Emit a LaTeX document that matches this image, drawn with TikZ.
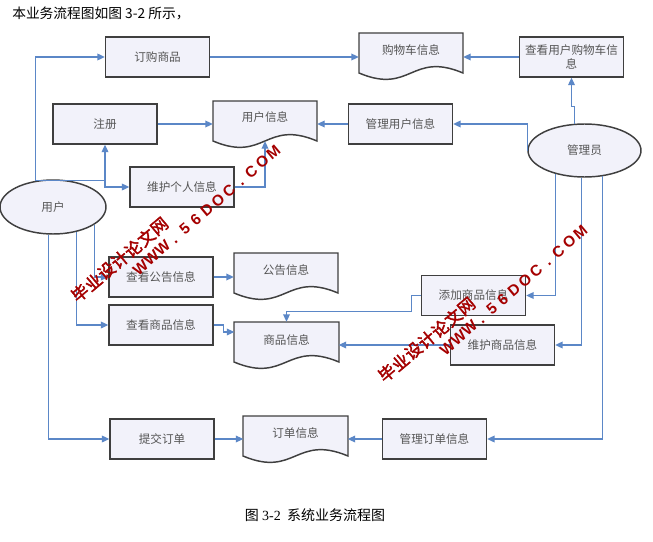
\documentclass[tikz,border=0pt]{standalone}
\usepackage{fontspec}
\newfontfamily\cjk{Noto Sans CJK SC}
\newfontfamily\cjkb[AutoFakeBold=2.5]{Noto Sans CJK SC}
\newfontfamily\wmfont{Liberation Sans}
\newfontfamily\numfont{Liberation Serif}
\usetikzlibrary{shapes.geometric,arrows.meta,calc}
\definecolor{boxfill}{HTML}{F2F2FA}
\definecolor{boxline}{HTML}{3F3F3F}
\definecolor{linkblue}{HTML}{5B87C7}
\definecolor{wmred}{HTML}{A50000}
\definecolor{txtgray}{HTML}{555555}
\newcommand\docpath[4]{\filldraw[docsty] (#1,#3) -- (#2,#3) -- (#2,#4) .. controls ({(#1+#2)/2},{#4-22}) and ({(#1+#2)/2},{#4+22}) .. (#1,#4) -- cycle;}
\begin{document}
\begin{tikzpicture}[x=0.75pt,y=-0.75pt,
  proc/.style={draw=boxline, fill=boxfill, line width=1.1pt, minimum width=78pt, minimum height=30pt, inner sep=0pt,
    font=\cjk\fontsize{8.7}{11}\selectfont, text=txtgray, align=center},
  docgeom/.style={minimum width=78pt, minimum height=30pt, inner sep=0pt},
  docsty/.style={draw=boxline, fill=boxfill, line width=1.1pt},
  dtxt/.style={font=\cjk\fontsize{8.7}{11}\selectfont, text=txtgray, inner sep=0pt},
  ell/.style={ellipse, draw=boxline, fill=boxfill, line width=1.1pt, inner sep=0pt,
    font=\cjk\fontsize{8.7}{11}\selectfont, text=txtgray},
  arr/.style={draw=linkblue, line width=0.9pt, -{Triangle[length=5.5pt,width=5pt]}},
  plain/.style={draw=linkblue, line width=0.9pt},
  wmc/.style={text=wmred, rotate=40, inner sep=0pt, font=\cjkb\bfseries\fontsize{12.5}{13}\selectfont},
  wmu/.style={text=wmred, rotate=40, inner sep=0pt, anchor=base, font=\wmfont\bfseries\fontsize{11.5}{12}\selectfont}
]
\fill[white] (0,0) rectangle (653,542);
\useasboundingbox (0,0) rectangle (653,542);

% intro and caption
\node[anchor=west, inner sep=0pt, font=\cjk\fontsize{10.3}{12}\selectfont] (intro) at (12,13) {本业务流程图如图 3-2 所示，};
\node[inner sep=0pt, font=\cjk\fontsize{10.5}{12}\selectfont] (cap) at (315,515) {图 {\numfont 3-2}\ \ 系统业务流程图};

% documents
\docpath{213}{317}{101}{141}
\docpath{359}{463}{33}{73}
\docpath{234}{338}{253}{293}
\docpath{234}{339}{322}{362}
\docpath{243}{348}{416}{456}
\node[docgeom] (yh) at (265,121) {};
\node[dtxt] (yh-t) at (265,117) {用户信息};
\node[docgeom] (gw) at (411,53) {};
\node[dtxt] (gw-t) at (411,50) {购物车信息};
\node[docgeom] (gx) at (286,273) {};
\node[dtxt] (gx-t) at (286,270) {公告信息};
\node[docgeom] (si) at (286.5,342) {};
\node[dtxt] (si-t) at (286.5,340) {商品信息};
\node[docgeom] (dd) at (295.5,436) {};
\node[dtxt] (dd-t) at (295.5,433) {订单信息};

% process boxes
\node[proc] (dg) at (157.5,57) {订购商品};
\node[proc] (zc) at (105,124) {注册};
\node[proc] (wh) at (182,187) {维护个人信息};
\node[proc] (ck) at (571.5,57) {查看用户购物车信\\息};
\node[proc] (gy) at (400.5,124) {管理用户信息};
\node[proc] (gg) at (161,277) {查看公告信息};
\node[proc] (sp) at (161,325) {查看商品信息};
\node[proc] (tj) at (473.5,295.5) {添加商品信息};
\node[proc] (wp) at (502.5,345) {维护商品信息};
\node[proc] (td) at (162,439) {提交订单};
\node[proc] (gd) at (434.5,439) {管理订单信息};

% actors
\node[ell, minimum width=79.5pt, minimum height=40.5pt] (user) at (53,207) {用户};
\node[ell, minimum width=84.75pt, minimum height=39.75pt] (admin) at (584.5,150.5) {管理员};

% connectors
\draw[arr] (user.124) |- (dg.west);
\draw[arr] (dg.east) -- (dg.east -| gw.west);
\draw[arr] (ck.west) -- (ck.west -| gw.east);
\draw[arr] (admin.110) -- ++(0,-17) -| (ck.south);
\draw[arr] (admin.west) |- (gy.east);
\draw[arr] (gy.west) -- (gy.west -| yh.east);
\draw[arr] (zc.east) -- (zc.east -| yh.west);
\draw[plain] (user.124) -- (user.124 -| zc.south) coordinate (j1);
\draw[arr] (j1) -- (zc.south);
\draw[arr] (j1) |- (wh.west);
\draw[arr] (wh.east) -| (yh.south);
\draw[arr] (user.-23) |- (gg.west);
\draw[arr] (user.-47) |- (sp.west);
\draw[arr] (user.-100) |- (td.west);
\draw[arr] (gg.east) -- (gg.east -| gx.west);
\draw[arr] (sp.east) -- ++(10,0) |- ($(si.west)+(0,-10)$);
\draw[arr] (tj.west) -- ++(-9,0) -- ++(0,16) -| (si.north);
\draw[arr] (wp.west) -- (wp.west -| si.east);
\draw[arr] (admin.-141) |- (tj.east);
\draw[arr] (admin.-97) |- (wp.east);
\draw[arr] (admin.-55) |- (gd.east);
\draw[arr] (td.east) -- (td.east -| dd.west);
\draw[arr] (gd.west) -- (gd.west -| dd.east);

% watermarks
\foreach \ch [count=\i from 0] in {毕,业,设,计,论,文,网} {
  \node[wmc] (wa\i) at ($(80,293)+\i*(13.25,-11.1)$) {\ch};
  \node[wmc] (wb\i) at ($(387,373)+\i*(13.25,-11.1)$) {\ch};
}
\foreach \ch [count=\i from 0] in {W,W,W,.,5,6,D,O,C,.,C,O,M} {
  \node[wmu] (ua\i) at ($(143.8,271.5)+\i*(11.08,-9.58)$) {\ch};
  \node[wmu] (ub\i) at ($(450.8,351.5)+\i*(11.08,-9.58)$) {\ch};
}
\end{tikzpicture}
\end{document}
